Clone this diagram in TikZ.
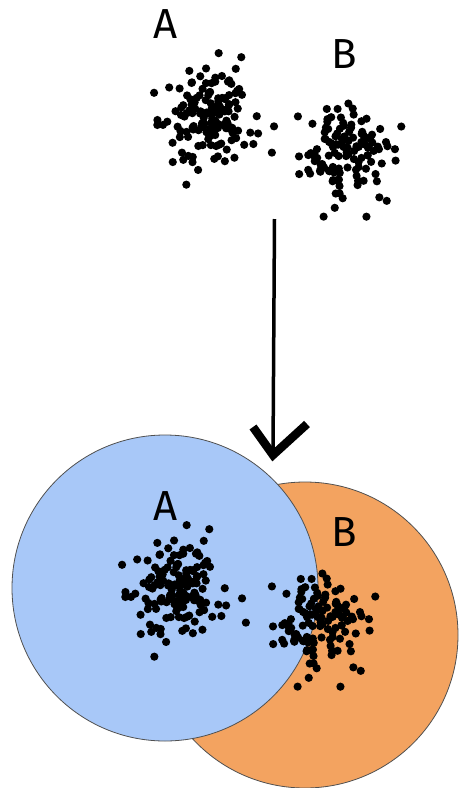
\documentclass[tikz,border=0pt]{standalone}
\usepackage{fontspec}
\setmainfont{Fira Sans}
\definecolor{cblue}{RGB}{168,200,248}
\definecolor{corange}{RGB}{243,163,96}
\definecolor{cedge}{RGB}{80,80,80}
\tikzset{
  lbl/.style={font=\fontsize{42}{42}\selectfont, inner sep=0pt, text=black},
  setcircle/.style={circle, draw=cedge, line width=0.8pt, minimum size=306pt, inner sep=0pt},
  dot/.style={fill=black},
}
\newcommand{\mycluster}[6]{% cx cy n sx sy seed
  \pgfmathsetseed{#6}
  \foreach \i in {1,...,#3}{
    \pgfmathsetmacro\uu{0.002+0.996*rnd}
    \pgfmathsetmacro\vv{360*rnd}
    \pgfmathsetmacro\rr{sqrt(-2*ln(\uu))}
    \pgfmathsetmacro\dx{#4*\rr*cos(\vv)}
    \pgfmathsetmacro\dy{#5*\rr*sin(\vv)}
    \fill[dot] ({#1+\dx},{#2+\dy}) circle[radius=4.1pt];
  }
}
\begin{document}
\begin{tikzpicture}[x=1pt,y=-1pt]
\useasboundingbox (0,0) rectangle (464,788);
% top labels
\node[lbl] (topA) at (166,24) {A};
\node[lbl] (topB) at (344,54) {B};
% top clusters
\mycluster{202}{117}{150}{24}{26}{17}
\mycluster{343}{151}{125}{23}{24}{29}
% arrow
\coordinate (arrtop) at (274.5,219);
\coordinate (arrtip) at (273,455);
\draw[line width=3.5pt] (arrtop) -- (arrtip);
\draw[line width=8.5pt, line join=miter] ([shift={(-20,-28)}]arrtip) -- (arrtip) -- ([shift={(34,-31)}]arrtip);
% circles
\node[setcircle, fill=corange] (cB) at (305,635) {};
\node[setcircle, fill=cblue] (cA) at (165,588) {};
% bottom labels
\node[lbl] (botA) at (166,506) {A};
\node[lbl] (botB) at (344,532) {B};
% bottom clusters
\mycluster{170}{589}{150}{24}{26}{17}
\mycluster{317}{621}{125}{23}{24}{29}
\end{tikzpicture}
\end{document}
